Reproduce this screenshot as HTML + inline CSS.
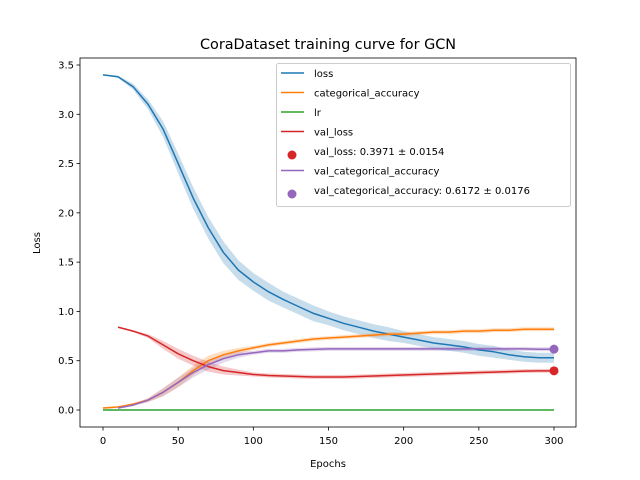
<!DOCTYPE html>
<html><head><meta charset="utf-8"><style>
body{margin:0;background:#fff}
svg{display:block;font-family:"DejaVu Sans","Liberation Sans",sans-serif}
</style></head><body>
<svg id="c" width="640" height="480"></svg>
<script>
const epochs=[0,10,20,30,40,50,60,70,80,90,100,110,120,130,140,150,160,170,180,190,200,210,220,230,240,250,260,270,280,290,300];
const lossVals=[3.40,3.38,3.28,3.1,2.85,2.5,2.15,1.85,1.6,1.42,1.3,1.2,1.12,1.05,0.98,0.93,0.88,0.84,0.8,0.77,0.74,0.71,0.68,0.66,0.64,0.61,0.59,0.56,0.54,0.53,0.53];
const lossStd=[0.005,0.01,0.03,0.05,0.08,0.1,0.11,0.11,0.11,0.1,0.09,0.09,0.08,0.08,0.08,0.07,0.07,0.07,0.07,0.07,0.06,0.06,0.06,0.06,0.06,0.06,0.06,0.05,0.05,0.05,0.05];
const accVals=[0.02,0.03,0.06,0.1,0.18,0.28,0.4,0.5,0.56,0.6,0.63,0.66,0.68,0.7,0.72,0.73,0.74,0.75,0.76,0.77,0.77,0.78,0.79,0.79,0.8,0.8,0.81,0.81,0.82,0.82,0.82];
const lrVals=[0,0,0,0,0,0,0,0,0,0,0,0,0,0,0,0,0,0,0,0,0,0,0,0,0,0,0,0,0,0,0];
const valEpochs=[10,20,30,40,50,60,70,80,90,100,110,120,130,140,150,160,170,180,190,200,210,220,230,240,250,260,270,280,290,300];
const valLossVals=[0.84,0.8,0.75,0.66,0.57,0.5,0.44,0.4,0.38,0.36,0.35,0.345,0.34,0.335,0.335,0.335,0.34,0.345,0.35,0.355,0.36,0.365,0.37,0.375,0.38,0.385,0.39,0.395,0.397,0.397];
const valAccVals=[0.02,0.05,0.1,0.18,0.28,0.38,0.46,0.52,0.56,0.58,0.6,0.6,0.61,0.615,0.62,0.62,0.62,0.62,0.62,0.62,0.62,0.62,0.62,0.62,0.62,0.62,0.62,0.62,0.617,0.617];
const bandStd=[0.01,0.01,0.02,0.04,0.05,0.05,0.05,0.04,0.03,0.02,0.02,0.02,0.02,0.02,0.02,0.02,0.02,0.02,0.02,0.02,0.02,0.02,0.02,0.02,0.02,0.02,0.02,0.02,0.02,0.02];
const xTicks=[0,50,100,150,200,250,300];
const yTicks=[0,0.5,1,1.5,2,2.5,3,3.5];
const finalPoints=[{x:300,y:0.3971,c:'#d62728'},{x:300,y:0.6172,c:'#9467bd'}];

const NS='http://www.w3.org/2000/svg',svg=document.getElementById('c');
const L=80,R=576,T=58,B=427;
const X=v=>103+v*(554-103)/300, Y=v=>410-v*(410-65)/3.5;
function mk(t,a,p){const e=document.createElementNS(NS,t);for(const k in a)e.setAttribute(k,a[k]);(p||svg).appendChild(e);return e;}
function txt(s,a){const e=mk('text',a);e.textContent=s;return e;}
function line(xs,ys,c,name){const d=xs.map((x,i)=>(i?'L':'M')+X(x).toFixed(1)+','+Y(ys[i]).toFixed(1)).join('');
 const e=mk('path',{d,fill:'none',stroke:c,'stroke-width':1.5,'stroke-linejoin':'round'});}
function band(xs,ys,sd,c,name){let d=xs.map((x,i)=>(i?'L':'M')+X(x).toFixed(1)+','+Y(ys[i]+sd[i]).toFixed(1)).join('');
 for(let i=xs.length-1;i>=0;i--)d+='L'+X(xs[i]).toFixed(1)+','+Y(ys[i]-sd[i]).toFixed(1);
 const e=mk('path',{d:d+'Z',fill:c,'fill-opacity':0.25,stroke:'none'});}
txt('CoraDataset training curve for GCN',{x:328,y:49,'text-anchor':'middle','font-size':14.4});
band(epochs,lossVals,lossStd,'#1f77b4','loss-band');
band(epochs,accVals,bandStd.slice(0,1).concat(bandStd),'#ff7f0e','acc-band');
band(valEpochs,valLossVals,bandStd,'#d62728','val-loss-band');
band(valEpochs,valAccVals,bandStd,'#9467bd','val-acc-band');
line(epochs,lossVals,'#1f77b4','loss-line');
line(epochs,accVals,'#ff7f0e','acc-line');
line(epochs,lrVals,'#2ca02c','lr-line');
line(valEpochs,valLossVals,'#d62728','val-loss-line');
line(valEpochs,valAccVals,'#9467bd','val-acc-line');
finalPoints.forEach((p,i)=>{const e=mk('circle',{cx:X(p.x),cy:Y(p.y),r:4.5,fill:p.c});});
mk('rect',{x:L,y:T,width:R-L,height:B-T,fill:'none',stroke:'#000','stroke-width':0.8});
xTicks.forEach(v=>{mk('line',{x1:X(v),x2:X(v),y1:B,y2:B+3.5,stroke:'#000','stroke-width':0.8});txt(String(v),{x:X(v),y:B+17,'text-anchor':'middle','font-size':10});});
yTicks.forEach(v=>{mk('line',{x1:L-3.5,x2:L,y1:Y(v),y2:Y(v),stroke:'#000','stroke-width':0.8});txt(v.toFixed(1),{x:L-6,y:Y(v)+3.5,'text-anchor':'end','font-size':10});});
txt('Epochs',{x:328,y:467,'text-anchor':'middle','font-size':10});
txt('Loss',{x:0,y:0,'text-anchor':'middle','font-size':10,transform:'translate(40,243) rotate(-90)'});
const lg=mk('g',{});
mk('rect',{x:276.5,y:63.5,width:294,height:143,rx:2,fill:'#fff','fill-opacity':0.8,stroke:'#ccc'},lg);
const items=[['loss','#1f77b4','l'],['categorical_accuracy','#ff7f0e','l'],['lr','#2ca02c','l'],['val_loss','#d62728','l'],['val_loss: 0.3971 ± 0.0154','#d62728','d'],['val_categorical_accuracy','#9467bd','l'],['val_categorical_accuracy: 0.6172 ± 0.0176','#9467bd','d']];
items.forEach((it,i)=>{const y=73+i*19.5;
 if(it[2]=='l')mk('line',{x1:281,x2:304,y1:y,y2:y,stroke:it[1],'stroke-width':1.5},lg);else mk('circle',{cx:292,cy:y+4,r:4.5,fill:it[1]},lg);
 const t=mk('text',{x:314,y:y+4,'font-size':10},lg);t.textContent=it[0];});
</script>
</body></html>
